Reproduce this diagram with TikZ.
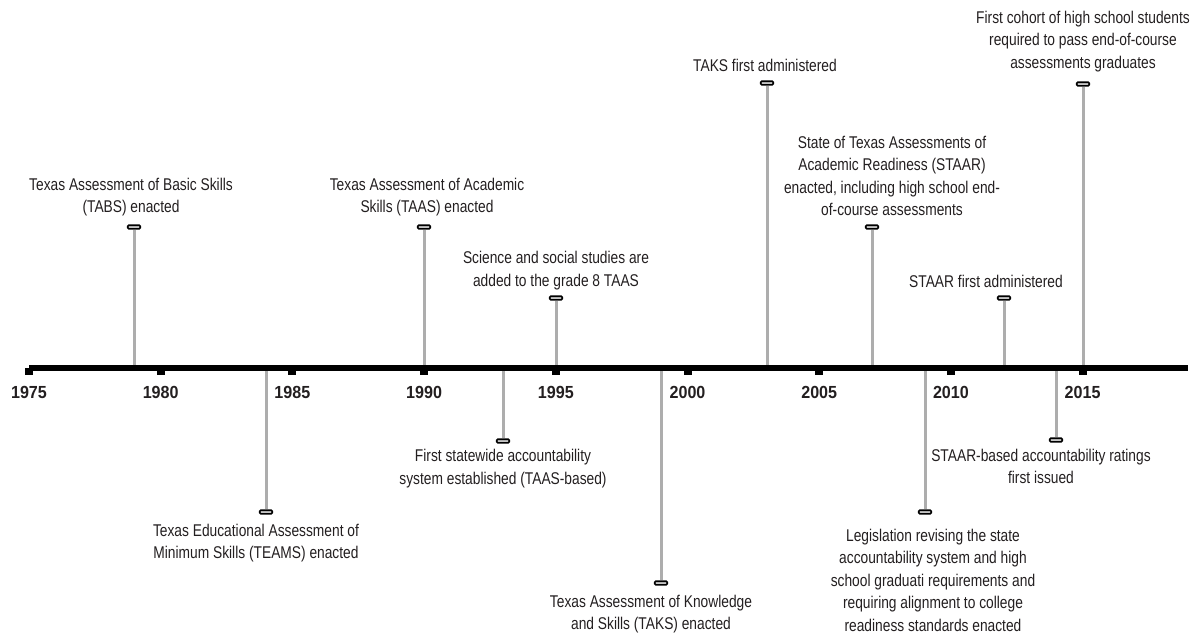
\documentclass[tikz,border=0pt]{standalone}
\usepackage{fontspec}
\setmainfont{Liberation Sans}[FakeStretch=0.81]
\newfontfamily\yearfont{Liberation Sans}[FakeStretch=0.92]
\definecolor{txt}{HTML}{231F20}
\definecolor{stemgray}{HTML}{ADADAD}
\begin{document}
\begin{tikzpicture}[x=1pt,y=-1pt,
  stem/.style={draw=stemgray,line width=3pt},
  marker/.style={draw=black,fill=stemgray!70,line width=1.6pt,rounded corners=1pt,minimum width=12.5pt,minimum height=3.6pt,inner sep=0pt},
  evtext/.style={align=center,text=txt,font=\fontsize{17}{22.5}\selectfont,inner sep=0pt},
  yearlbl/.style={text=txt,font=\yearfont\bfseries\fontsize{17.5}{20}\selectfont,inner sep=0pt},
  tick/.style={fill=black,draw=none,minimum width=8pt,minimum height=7pt,inner sep=0pt}]
\useasboundingbox (0,0) rectangle (1199,637);

% axis coordinates
\coordinate (axL) at (29,368);
\coordinate (axR) at (1188,368);

% events: name / stem x / marker y
\foreach \n/\sx/\my in {tabs/134/227, taas/424/227, sci/556/298, taksa/767/83, staare/872/227, staarf/1004/298, cohort/1083/84,
  teams/266/512, state/503/441, takse/661/583, legis/925/512, rating/1056/440}{
  \coordinate (a-\n) at (\sx,368);
  \node[marker] (m-\n) at (\sx,\my) {};
  \draw[stem] (m-\n) -- (a-\n);
}

% axis
\draw[line width=6.5pt,black] (axL) -- (axR);

% ticks and year labels
\foreach \yr [count=\i from 0] in {1975,1980,1985,1990,1995,2000,2005,2010,2015}{
  \pgfmathsetmacro{\tx}{29+\i*131.7}
  \node[tick] (t\yr) at (\tx,371) {};
  \node[yearlbl] (y\yr) at (\tx,392.5) {\yr};
}

% texts above
\node[evtext] (l-tabs) at (131,197) {Texas Assessment of Basic Skills\\(TABS) enacted};
\node[evtext] (l-taas) at (427,197) {Texas Assessment of Academic\\Skills (TAAS) enacted};
\node[evtext] (l-sci) at (556,270.5) {Science and social studies are\\added to the grade 8 TAAS};
\node[evtext] (l-taksa) at (765,65) {TAKS first administered};
\node[evtext] (l-staare) at (892,176) {State of Texas Assessments of\\Academic Readiness (STAAR)\\enacted, including high school end-\\of-course assessments};
\node[evtext] (l-staarf) at (986,281) {STAAR first administered};
\node[evtext] (l-cohort) at (1083,41.5) {First cohort of high school students\\required to pass end-of-course\\assessments graduates};

% texts below
\node[evtext] (l-teams) at (256,543) {Texas Educational Assessment of\\Minimum Skills (TEAMS) enacted};
\node[evtext] (l-state) at (503,468.5) {First statewide accountability\\system established (TAAS-based)};
\node[evtext] (l-takse) at (651,614) {Texas Assessment of Knowledge\\and Skills (TAKS) enacted};
\node[evtext] (l-legis) at (933,580) {Legislation revising the state\\accountability system and high\\school graduati requirements and\\requiring alignment to college\\readiness standards enacted};
\node[evtext] (l-rating) at (1041,466.5) {STAAR-based accountability ratings\\first issued};
\end{tikzpicture}
\end{document}
